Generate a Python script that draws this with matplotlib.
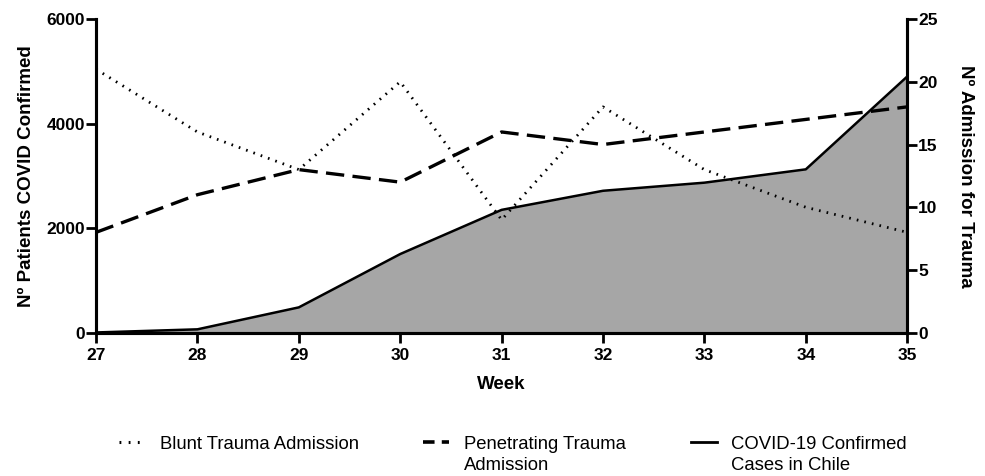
import matplotlib
matplotlib.use("Agg")
from matplotlib import pyplot as plt
from matplotlib.lines import Line2D

weeks = [27, 28, 29, 30, 31, 32, 33, 34, 35]
covid_cases = [5, 65, 485, 1505, 2350, 2715, 2870, 3125, 4900]
blunt_admission = [21, 16, 13, 20, 9, 18, 13, 10, 8]
penetrating_admission = [8, 11, 13, 12, 16, 15, 16, 17, 18]

left_ticks = [0, 2000, 4000, 6000]
right_ticks = [0, 5, 10, 15, 20, 25]

# legend labels: first line goes in the legend, second line is added under it
legend_labels = [('Blunt Trauma Admission', None),
                 ('Penetrating Trauma', 'Admission'),
                 ('COVID-19 Confirmed', 'Cases in Chile')]

plt.rcParams['font.family'] = ['Liberation Sans', 'DejaVu Sans']

fig = plt.figure(figsize=(9.85, 4.76), dpi=100)
ax1 = fig.add_axes([0.0975, 0.301, 0.8235, 0.659])
ax2 = ax1.twinx()

ax1.fill_between(weeks, covid_cases, 0, color='#a6a6a6', linewidth=0)
ax1.plot(weeks, covid_cases, color='black', linewidth=1.8)

ax2.plot(weeks, blunt_admission, color='black', linewidth=2.0,
         linestyle=(0, (0.6, 2.2)))
ax2.plot(weeks, penetrating_admission, color='black', linewidth=2.4,
         linestyle=(0, (5.5, 2.5)))

ax1.set_xlim(27, 35)
ax1.set_ylim(0, 6000)
ax2.set_ylim(0, 25)
ax1.set_xticks(weeks)
ax1.set_yticks(left_ticks)
ax2.set_yticks(right_ticks)

for ax in (ax1, ax2):
    ax.spines['top'].set_visible(False)
    for s in ('left', 'right', 'bottom'):
        ax.spines[s].set_linewidth(2.2)
    ax.tick_params(direction='out', length=7, width=2.0, labelsize=12.5)
    for lab in ax.get_xticklabels() + ax.get_yticklabels():
        lab.set_fontweight('bold')
ax1.tick_params(axis='x', pad=4)
ax1.tick_params(axis='y', pad=1)
ax2.tick_params(axis='y', pad=1)

ax1.set_xlabel('Week', fontsize=13.5, fontweight='bold', labelpad=9)
ax1.set_ylabel('Nº Patients COVID Confirmed', fontsize=13.5, fontweight='bold', labelpad=8)
ax2.set_ylabel('Nº Admission for Trauma', fontsize=13.5, fontweight='bold',
               rotation=270, labelpad=26)

# legend handles (shorter dash patterns than in the plot, as in the original)
handles = [Line2D([], [], color='black', linewidth=2.2, linestyle=(0, (0.6, 2.4))),
           Line2D([], [], color='black', linewidth=2.6, linestyle=(0, (3.2, 2.0))),
           Line2D([], [], color='black', linewidth=2.0)]
leg = fig.legend(handles=handles, labels=[l[0] for l in legend_labels],
                 loc='upper left', bbox_to_anchor=(0.121, 0.085), ncol=3,
                 frameon=False, fontsize=13.3, handlelength=1.4, handletextpad=0.8,
                 columnspacing=3.5, borderaxespad=0, borderpad=0)

fig.canvas.draw()
renderer = fig.canvas.get_renderer()
for txt, (first, second) in zip(leg.get_texts(), legend_labels):
    if second is None:
        continue
    bb = txt.get_window_extent(renderer)
    fig.text(bb.x0 / fig.bbox.width, (bb.y0 - 21) / fig.bbox.height, second,
             fontsize=13.3, ha='left', va='bottom')

fig.savefig('out.png', dpi=100)
